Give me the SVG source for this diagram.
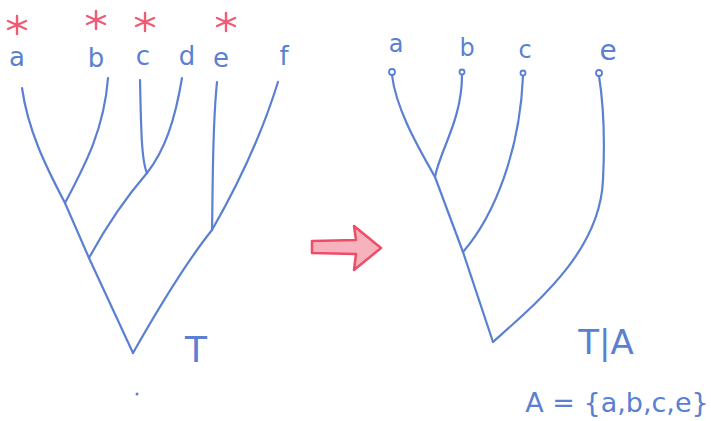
<svg xmlns="http://www.w3.org/2000/svg" width="711" height="421" viewBox="0 0 711 421">
<style>
.e{fill:none;stroke:#5b80d2;stroke-width:2.2;stroke-linecap:round;stroke-linejoin:round}
.t{font-family:"DejaVu Sans","Liberation Sans",sans-serif;fill:#5b80d2;text-anchor:middle}
.s{stroke:#ef5a74;stroke-width:2.4;stroke-linecap:round;fill:none}
.o{fill:#fff;stroke:#5b80d2;stroke-width:1.8}
</style>
<defs>
<g id="star"><path class="s" d="M0,-9 L0,9 M-9,-4 L9,4 M-9,4 L9,-4"/></g>
</defs>
<rect width="711" height="421" fill="#fff"/>
<g id="connectors">
<path class="e" d="M22,88 C28,130 45,165 65,203"/>
<path class="e" d="M108,78 C104,130 85,165 65,203"/>
<path class="e" d="M140,80 C141,120 141,160 147,173"/>
<path class="e" d="M182,78 C175,120 165,150 147,173"/>
<path class="e" d="M147,173 Q115,210 89,258"/>
<path class="e" d="M65,203 L89,258 L133,353"/>
<path class="e" d="M217,82 C212,130 213,190 212,230"/>
<path class="e" d="M278,82 C260,140 235,190 212,230"/>
<path class="e" d="M212,230 Q180,270 133,353"/>
<path class="e" d="M392,75 C396,110 420,150 435,177"/>
<path class="e" d="M462,75 C462,120 440,150 435,177"/>
<path class="e" d="M435,177 L463,252 L493,342"/>
<path class="e" d="M523,76 C520,150 495,215 463,252"/>
<path class="e" d="M599,76 C606,120 604,160 603,180 C600,250 540,300 493,342"/>
<path d="M312,241 L356,240 L354,226 L381,248 L354,270 L356,254 L312,253 Z" fill="#f6b3bd" stroke="#ee4d68" stroke-width="2.5" stroke-linejoin="round"/>
<circle cx="137" cy="394" r="1.5" fill="#5b80d2"/>
</g>
<g id="left-tree">
<g id="node-a"><use href="#star" x="17" y="25"/><text class="t" x="17" y="66" font-size="26">a</text></g>
<g id="node-b"><use href="#star" x="96" y="20"/><text class="t" x="96" y="67" font-size="26">b</text></g>
<g id="node-c"><use href="#star" x="145" y="22"/><text class="t" x="143" y="65" font-size="26">c</text></g>
<g id="node-d"><text class="t" x="187" y="65" font-size="26">d</text></g>
<g id="node-e"><use href="#star" x="226" y="22"/><text class="t" x="221" y="67" font-size="26">e</text></g>
<g id="node-f"><text class="t" x="284" y="65" font-size="26">f</text></g>
<g id="label-T"><text class="t" x="196" y="362" font-size="36">T</text></g>
</g>
<g id="right-tree">
<g id="node-a2"><circle class="o" cx="392" cy="72" r="3"/><text class="t" x="396" y="52" font-size="24">a</text></g>
<g id="node-b2"><circle class="o" cx="462" cy="72" r="2.5"/><text class="t" x="467" y="56" font-size="24">b</text></g>
<g id="node-c2"><circle class="o" cx="523" cy="73" r="2.5"/><text class="t" x="525" y="58" font-size="24">c</text></g>
<g id="node-e2"><circle class="o" cx="599" cy="73" r="3"/><text class="t" x="608" y="60" font-size="28">e</text></g>
<g id="label-TA"><text class="t" x="606" y="354" font-size="34">T|A</text></g>
<g id="label-A"><text class="t" x="617" y="412" font-size="27">A = {a,b,c,e}</text></g>
</g>
</svg>
